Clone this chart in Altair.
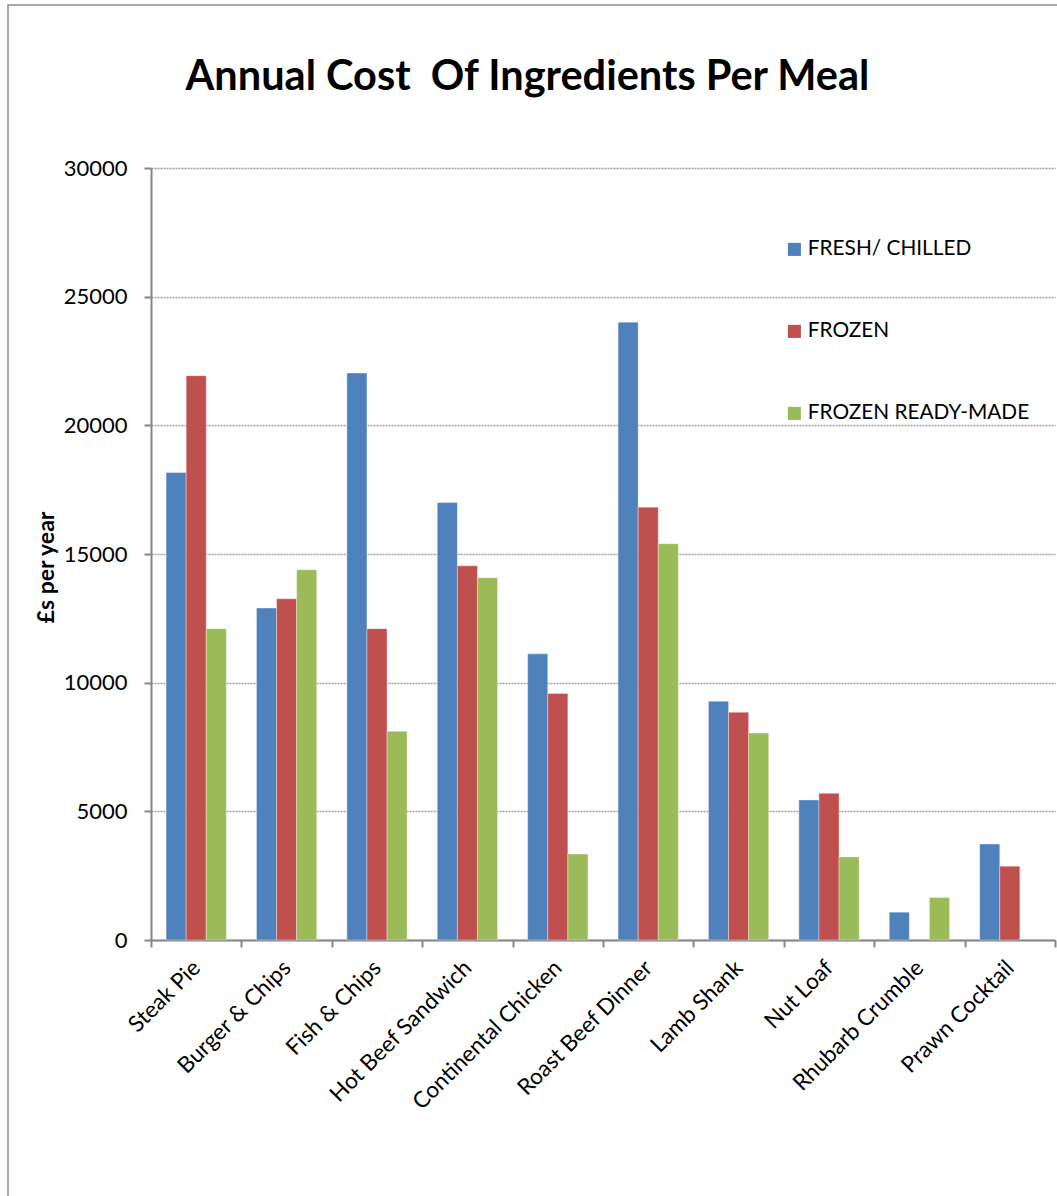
import altair as alt
import pandas as pd

meals = ["Steak Pie", "Burger & Chips", "Fish & Chips", "Hot Beef Sandwich",
         "Continental Chicken", "Roast Beef Dinner", "Lamb Shank", "Nut Loaf",
         "Rhubarb Crumble", "Prawn Cocktail"]
fresh_chilled = [18170, 12900, 22030, 17000, 11120, 24010, 9280, 5440, 1080, 3730]
frozen = [21930, 13260, 12100, 14540, 9580, 16820, 8850, 5700, None, 2870]
frozen_ready_made = [12100, 14390, 8110, 14080, 3340, 15400, 8040, 3230, 1650, None]
series = ["FRESH/ CHILLED", "FROZEN", "FROZEN READY-MADE"]
colors = ["#4F81BD", "#C0504D", "#9BBB59"]
y_ticks = [0, 5000, 10000, 15000, 20000, 25000, 30000]
title_text = "Annual Cost\u00a0 Of Ingredients Per Meal"

rows = []
for name, vals in zip(series, [fresh_chilled, frozen, frozen_ready_made]):
    for m, v in zip(meals, vals):
        if v is not None:
            rows.append({"meal": m, "series": name, "value": v})
df = pd.DataFrame(rows)

FONT = "Lato"

bars = alt.Chart(df).mark_bar(stroke="white", strokeWidth=0.6, strokeOpacity=0.6).encode(
    x=alt.X("meal:N", sort=meals,
            scale=alt.Scale(paddingInner=0, paddingOuter=0),
            axis=alt.Axis(title=None, labelAngle=-45, labelAlign="right",
                          labelBaseline="middle", tickBand="extent",
                          labelFont=FONT, labelFontSize=22.5, labelColor="#000000",
                          labelPadding=17, labelLimit=0, tickSize=7,
                          tickColor="#868686", tickWidth=2,
                          domainColor="#868686", domainWidth=2, grid=False)),
    xOffset=alt.XOffset("series:N", sort=series,
                        scale=alt.Scale(paddingInner=0, paddingOuter=0.75)),
    y=alt.Y("value:Q", scale=alt.Scale(domain=[0, 30000], nice=False),
            axis=alt.Axis(values=y_ticks, format="d", title="£s per year",
                          titleFont=FONT, titleFontSize=23, titleFontWeight="bold",
                          titleColor="#000000", titleX=-105, titleY=399,
                          titleAngle=-90, titleAlign="center", titleBaseline="middle",
                          labelFont=FONT, labelFontSize=22, labelColor="#000000",
                          labelPadding=17, tickSize=7, tickColor="#868686",
                          tickWidth=2, domainColor="#868686", domainWidth=2,
                          grid=True, gridColor="#a0a0a0", gridDash=[2, 1],
                          gridWidth=1.5)),
    color=alt.Color("series:N", sort=series,
                    scale=alt.Scale(domain=series, range=colors),
                    legend=alt.Legend(title=None, orient="none", legendX=633,
                                      legendY=71, symbolType="square",
                                      symbolSize=170, symbolStrokeWidth=0,
                                      labelFont=FONT, labelFontSize=20.8,
                                      labelColor="#000000", rowPadding=60,
                                      labelOffset=3, labelLimit=0, padding=0)),
)

frame = alt.Chart(pd.DataFrame({"a": [0]})).mark_rect(
    fillOpacity=0, stroke="#8c8c8c", strokeWidth=1.5
).encode(
    x=alt.value(-143), x2=alt.value(930), y=alt.value(-163), y2=alt.value(1100)
)

title = alt.Chart(pd.DataFrame({"t": [title_text]})).mark_text(
    font=FONT, fontSize=41.5, fontWeight="bold", color="#000000",
    align="center", baseline="alphabetic"
).encode(text="t:N", x=alt.value(376.5), y=alt.value(-78))

chart = alt.layer(frame, bars, title).properties(
    width=904, height=772,
    padding={"left": 151, "top": 168, "right": 2, "bottom": 256},
    autosize=alt.AutoSizeParams(type="none"),
).configure_view(stroke=None)

chart.save("out.html", embed_options={"renderer": "svg", "actions": False})
